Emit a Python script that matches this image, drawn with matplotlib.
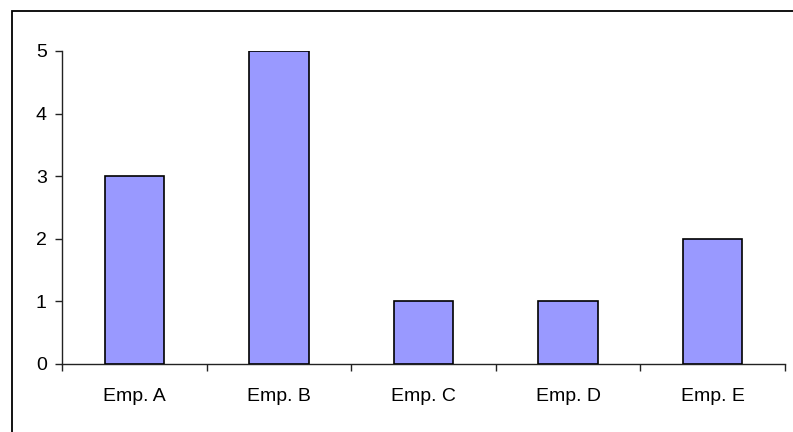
import matplotlib
matplotlib.use('Agg')
import matplotlib.pyplot as plt
from matplotlib.patches import Rectangle

# --- data ---
employees = ['Emp. A', 'Emp. B', 'Emp. C', 'Emp. D', 'Emp. E']
counts = [3, 5, 1, 1, 2]

plt.rcParams['font.family'] = ['Liberation Sans', 'DejaVu Sans']

fig = plt.figure(figsize=(7.93, 4.32), dpi=100)

# outer chart border (runs off the right and bottom edges)
fig.patches.append(Rectangle((12 / 793, -0.1), 1.2, 0.1 + (1 - 11 / 432),
                             transform=fig.transFigure, fill=False,
                             edgecolor='black', linewidth=1.3, zorder=0))

ax = fig.add_axes([62 / 793, 1 - 364 / 432, (785 - 62) / 793, (364 - 51) / 432])

centers = [i + 0.5 for i in range(len(employees))]
ax.bar(centers, counts, width=0.41, color='#9999FF', edgecolor='black',
       linewidth=1.2, zorder=3)

ax.set_xlim(0, len(employees))
ax.set_ylim(0, 5)

for side in ('top', 'right'):
    ax.spines[side].set_visible(False)
for side in ('left', 'bottom'):
    ax.spines[side].set_linewidth(1.0)
    ax.spines[side].set_color('#222222')

# ticks at category boundaries, labels at category centres
ax.set_xticks(range(len(employees) + 1))
ax.set_xticklabels([])
ax.set_xticks(centers, minor=True)
ax.set_xticklabels(employees, minor=True, fontsize=14)
ax.tick_params(axis='x', which='major', direction='out', length=5, width=1, color='#222222')
ax.tick_params(axis='x', which='minor', length=0, pad=17)

ax.set_yticks(range(6))
ax.tick_params(axis='y', direction='out', length=5, width=1, color='#222222',
               labelsize=14, pad=6)

fig.savefig('out.png', dpi=100)
plt.close(fig)
